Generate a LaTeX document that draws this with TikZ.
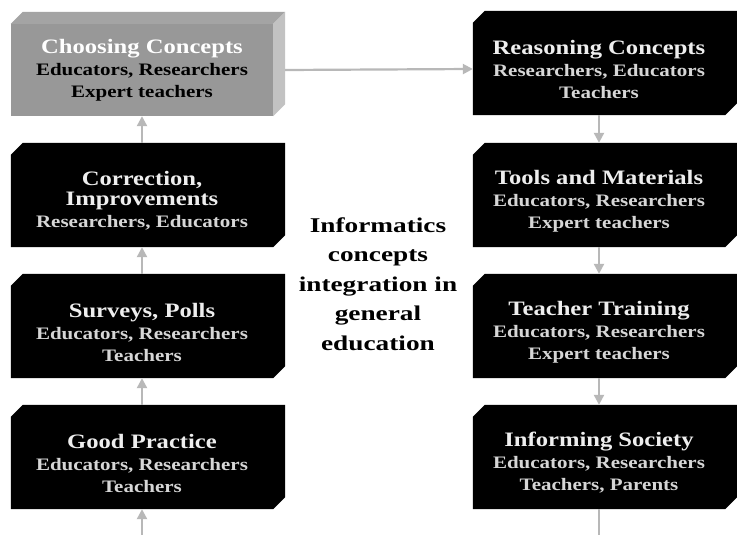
\documentclass[tikz,border=0pt]{standalone}
\usepackage{fontspec}
\setmainfont{Liberation Serif}
\newfontfamily\widefont{Liberation Serif}[FakeStretch=1.2]
\newfontfamily\widerfont{Liberation Serif}[FakeStretch=1.3]
\usetikzlibrary{arrows.meta,backgrounds,positioning}
\definecolor{frontgray}{HTML}{989898}
\definecolor{topgray}{HTML}{A4A4A4}
\definecolor{sidegray}{HTML}{C2C2C2}
\definecolor{titlewhite}{HTML}{EEEEEE}
\definecolor{namegray}{HTML}{D6D6D6}
\definecolor{flowgray}{HTML}{B8B8B8}

\tikzset{
  stage/.style={minimum width=262pt, minimum height=92pt, inner sep=0pt,
    align=center, text=namegray, font=\widefont\bfseries\fontsize{17.5}{22}\selectfont},
  rightstage/.style={stage, minimum width=252pt},
  flow/.style={draw=flowgray, line width=2.2pt, -{Triangle[length=10pt,width=10pt]}},
  flowline/.style={draw=flowgray, line width=2.2pt}
}
\newcommand{\stagetitle}[1]{{\color{titlewhite}\fontsize{20.5}{22}\selectfont #1}}

\begin{document}
\begin{tikzpicture}[x=1pt, y=-1pt]
    \useasboundingbox (0,0) rectangle (737,535);

    % left column, read from bottom to top
    \node[stage] (choose) at (142,70)
      {{\color{white}\fontsize{20.5}{22}\selectfont Choosing Concepts}\\
       \color{black}Educators, Researchers\\ \color{black}Expert teachers};
    \node[stage] (correct) at (142,201)
      {\stagetitle{Correction,}\\[-2pt] \stagetitle{Improvements}\\ Researchers, Educators};
    \node[stage] (survey) at (142,332)
      {\stagetitle{Surveys, Polls}\\ Educators, Researchers\\ Teachers};
    \node[stage] (practice) at (142,463)
      {\stagetitle{Good Practice}\\ Educators, Researchers\\ Teachers};

    % right column, read from top to bottom
    \node[rightstage] (reason) at (599,69)
      {\stagetitle{Reasoning Concepts}\\ Researchers, Educators\\ Teachers};
    \node[rightstage] (tools) at (599,201)
      {\stagetitle{Tools and Materials}\\ Educators, Researchers\\ Expert teachers};
    \node[rightstage] (training) at (599,332)
      {\stagetitle{Teacher Training}\\ Educators, Researchers\\ Expert teachers};
    \node[rightstage] (inform) at (599,463)
      {\stagetitle{Informing Society}\\ Educators, Researchers\\ Teachers, Parents};

    % title in the middle
    \node[align=center, font=\widerfont\bfseries\fontsize{21}{29.5}\selectfont] (topic) at (378,284)
      {Informatics\\ concepts\\ integration in\\ general\\ education};

    % box bodies behind the texts
    \begin{scope}[on background layer]
      \fill[white] (0,0) rectangle (737,535);
      \foreach \n in {correct,survey,practice,reason,tools,training,inform}
        \fill[black] (\n.south west) -- (\n.north west)
          -- ([shift={(12pt,12pt)}]\n.north west) -- ([shift={(12pt,12pt)}]\n.north east)
          -- ([shift={(12pt,12pt)}]\n.south east) -- (\n.south east) -- cycle;
      % the grey block has visible top and side faces
      \fill[frontgray] (choose.south west) rectangle (choose.north east);
      \fill[topgray] (choose.north west) -- ([shift={(12pt,12pt)}]choose.north west)
        -- ([shift={(12pt,12pt)}]choose.north east) -- (choose.north east) -- cycle;
      \fill[sidegray] (choose.north east) -- ([shift={(12pt,12pt)}]choose.north east)
        -- ([shift={(12pt,12pt)}]choose.south east) -- (choose.south east) -- cycle;
    \end{scope}

    % connectors
    \coordinate (leftfoot) at (142,535);
    \coordinate (rightfoot) at (599,535);
    \draw[flow] (leftfoot) -- (practice.south);
    \draw[flow] ([yshift=12pt]practice.north) -- (survey.south);
    \draw[flow] ([yshift=12pt]survey.north) -- (correct.south);
    \draw[flow] ([yshift=12pt]correct.north) -- (choose.south);
    \draw[flow] ([xshift=12pt]choose.east) -- (reason.west);
    \draw[flow] (reason.south) -- ([yshift=12pt]tools.north);
    \draw[flow] (tools.south) -- ([yshift=12pt]training.north);
    \draw[flow] (training.south) -- ([yshift=12pt]inform.north);
    \draw[flowline] (inform.south) -- (rightfoot);
\end{tikzpicture}
\end{document}
